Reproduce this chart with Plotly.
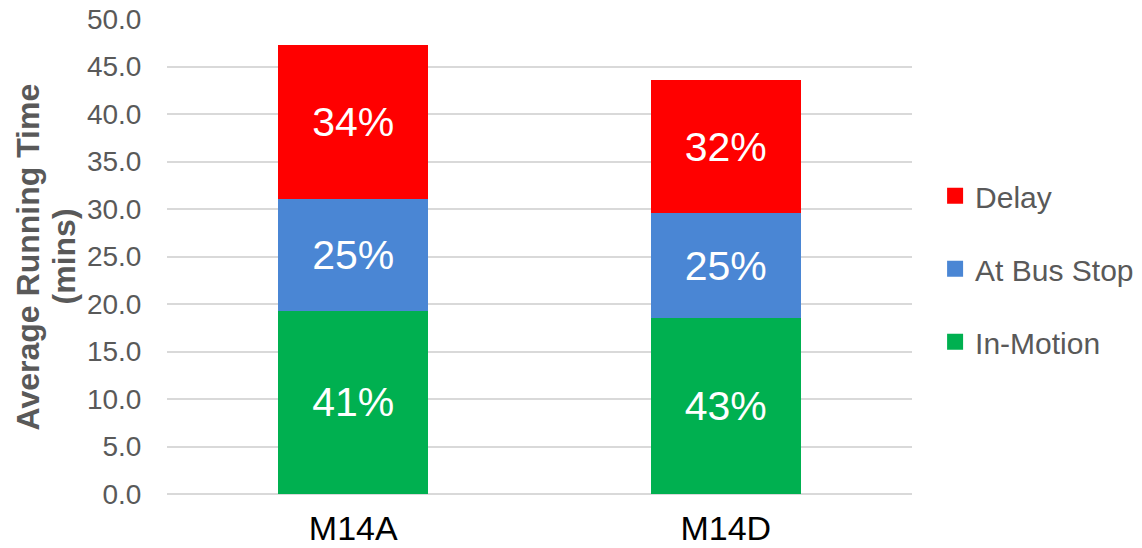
import plotly.graph_objects as go

routes = ["M14A", "M14D"]
in_motion = [19.3, 18.55]
at_bus_stop = [11.8, 11.0]
delay = [16.2, 14.0]
y_ticks = [0, 5, 10, 15, 20, 25, 30, 35, 40, 45, 50]
y_title_lines = ["Average Running Time", "(mins)"]

totals = [a + b + c for a, b, c in zip(in_motion, at_bus_stop, delay)]

def pct(vals):
    return [f"{round(v / t * 100):.0f}%" for v, t in zip(vals, totals)]

series = [
    ("In-Motion", in_motion, "#00b050"),
    ("At Bus Stop", at_bus_stop, "#4a86d4"),
    ("Delay", delay, "#ff0000"),
]

FONT = "Liberation Sans, Arial, sans-serif"

fig = go.Figure()
for name, vals, color in series:
    fig.add_trace(go.Bar(
        x=routes, y=vals, name=name, showlegend=False,
        marker=dict(color=color, line=dict(width=0)),
        text=pct(vals), textposition="inside", insidetextanchor="middle",
        textangle=0,
        textfont=dict(family=FONT, size=41, color="white"),
        hoverinfo="x+y+name",
    ))

# legend entries (square swatches), top to bottom
for name, vals, color in reversed(series):
    fig.add_trace(go.Scatter(
        x=[None], y=[None], mode="markers", name=name, legendgroup=name,
        marker=dict(symbol="square", size=18, color=color),
        showlegend=True,
    ))

# y-axis title as two rotated lines
for text, xpos in zip(y_title_lines, [-0.1866, -0.1383]):
    fig.add_annotation(
        text=f"<b>{text}</b>", xref="paper", yref="paper",
        x=xpos, y=0.5, xanchor="center", yanchor="middle",
        textangle=-90, showarrow=False,
        font=dict(family=FONT, size=32, color="#595959"),
    )

fig.update_layout(
    barmode="stack",
    bargap=0.597,
    width=1142, height=548,
    margin=dict(l=167, r=230, t=19, b=54, autoexpand=False),
    plot_bgcolor="white", paper_bgcolor="white",
    font=dict(family=FONT, color="#595959"),
    showlegend=True,
    legend=dict(
        x=1.031, y=0.474, xanchor="left", yanchor="middle",
        traceorder="grouped",
        tracegroupgap=31,
        font=dict(size=30, color="#595959"),
        itemwidth=30,
        bgcolor="rgba(0,0,0,0)",
    ),
    uniformtext=dict(mode="show", minsize=10),
)
fig.update_yaxes(
    range=[0, 50], tickvals=y_ticks,
    ticktext=[f"{v:.1f}" for v in y_ticks],
    showgrid=True, gridcolor="#d9d9d9", gridwidth=1.5,
    zeroline=True, zerolinecolor="#d9d9d9", zerolinewidth=1.5,
    tickfont=dict(size=28, color="#595959"),
    ticks="outside", ticklen=19, tickcolor="rgba(0,0,0,0)",
    ticklabeloverflow="allow",
    automargin=False,
)
fig.update_xaxes(
    showgrid=False, showline=False, ticks="outside", ticklen=4,
    tickcolor="rgba(0,0,0,0)",
    ticklabeloverflow="allow",
    automargin=False,
    tickfont=dict(size=34, color="#000000"),
)

# remove the default page margin so the figure fills the window exactly
fig.write_html(
    "out.html",
    config={"displayModeBar": False},
    post_script="document.body.style.margin='0';document.body.style.overflow='hidden';",
)
